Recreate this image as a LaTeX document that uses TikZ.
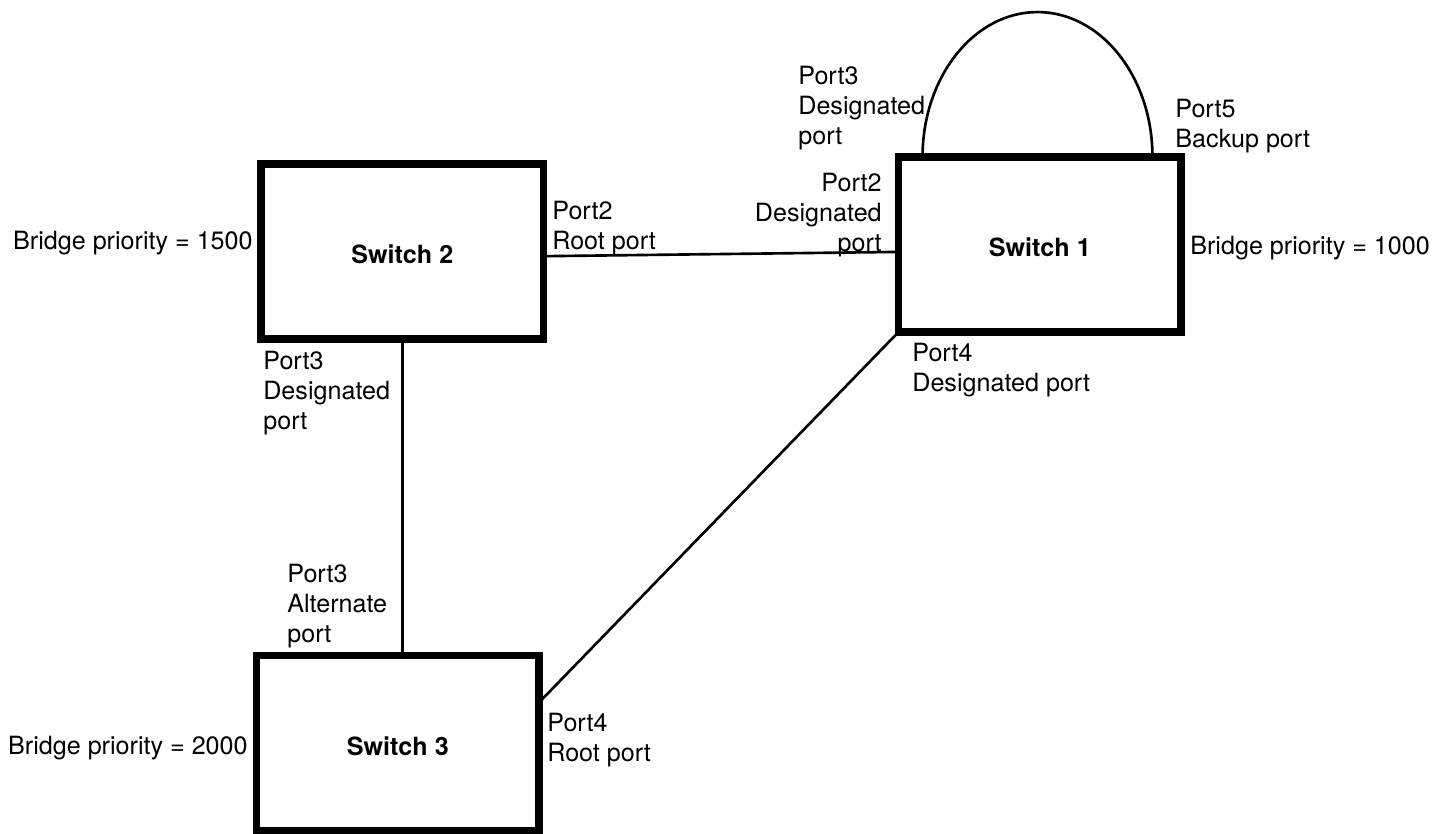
\documentclass[tikz,border=0pt]{standalone}
\usepackage{fontspec}
\setmainfont{TeX Gyre Heros}
\begin{document}
\begin{tikzpicture}[x=0.02cm,y=-0.02cm,
    switchbox/.style={draw,line width=4.3pt,minimum width=5.65cm,minimum height=3.5cm,
        outer sep=0pt,text height=14pt,text depth=0pt,
        font=\fontsize{14.3}{17}\selectfont\bfseries},
    portlabel/.style={inner sep=0pt,align=left,font=\fontsize{14.3}{17}\selectfont},
    link/.style={line width=1.5pt}]

\useasboundingbox (0,0) rectangle (1442,833);

% Switches
\node[switchbox] (sw2) at (402.25,251.25) {Switch 2};
\node[switchbox] (sw1) at (1039.75,244.5) {Switch 1};
\node[switchbox] (sw3) at (397.75,743) {Switch 3};

% Links
\draw[link] (sw2.-2) -- (sw1.183.4);
\draw[link] (sw2.south) -- (sw2.south |- sw3.north);
\draw[link] (sw3.16) -- (sw1.south west);
\coordinate (loopa) at ([xshift=0.48cm]sw1.north west);
\draw[link] (loopa) arc[start angle=180,end angle=0,x radius=2.3cm,y radius=2.9cm];

% Bridge priorities
\node[portlabel,anchor=north east] (bp2) at (253,231) {Bridge priority = 1500};
\node[portlabel,anchor=north west] (bp1) at (1190,236) {Bridge priority = 1000};
\node[portlabel,anchor=north east] (bp3) at (248,736) {Bridge priority = 2000};

% Port labels
\node[portlabel,anchor=north west] (p22) at (552,201) {Port2\\Root port};
\node[portlabel,anchor=north west] (p23) at (263,351) {Port3\\Designated\\port};
\node[portlabel,anchor=north west] (p13) at (798,66) {Port3\\Designated\\port};
\node[portlabel,anchor=north west] (p15) at (1175,99) {Port5\\Backup port};
\node[portlabel,anchor=north east,align=right] (p12) at (882,173) {Port2\\Designated\\port};
\node[portlabel,anchor=north west] (p14) at (912,343) {Port4\\Designated port};
\node[portlabel,anchor=north west] (p33) at (287,564) {Port3\\Alternate\\port};
\node[portlabel,anchor=north west] (p34) at (547,713) {Port4\\Root port};

\end{tikzpicture}
\end{document}
